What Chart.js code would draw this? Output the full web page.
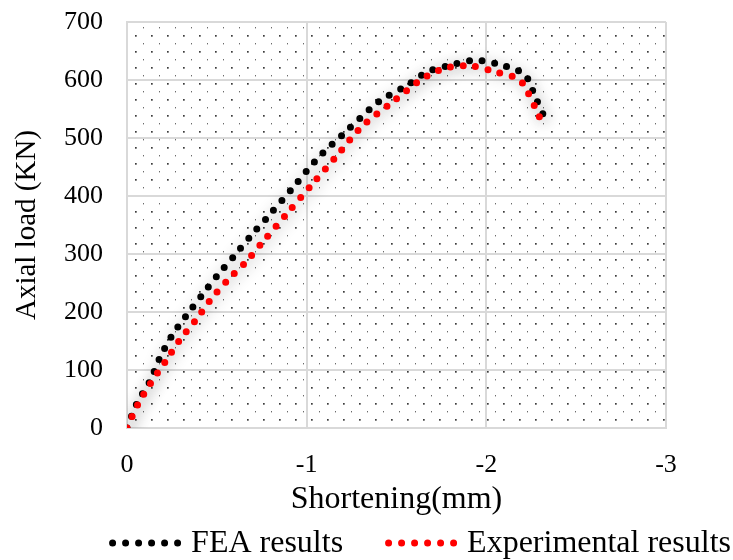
<!DOCTYPE html>
<html>
<head>
<meta charset="utf-8">
<script src="https://cdn.jsdelivr.net/npm/chart.js@4.4.0/dist/chart.umd.min.js"></script>
<style>
  html, body { margin: 0; padding: 0; background: #fff; }
  #wrap { width: 733px; height: 560px; }
</style>
</head>
<body>
<div id="wrap"><canvas id="chart" width="733" height="560"></canvas></div>
<script>
// Shortening (mm) and axial load (KN)
const feaX = [0, -0.056, -0.128, -0.183, -0.25, -0.333, -0.422, -0.506, -0.6, -0.694, -0.789, -0.928, -1.067, -1.222, -1.378, -1.433, -1.561, -1.672, -1.806, -1.944, -2.078, -2.211, -2.272, -2.34];
const feaY = [0, 43, 81, 121, 159, 195, 231, 264, 298, 333, 366, 416, 467, 512, 557, 569, 591, 614, 626, 634, 626, 610, 571, 524];

const expX = [0, -0.061, -0.133, -0.217, -0.294, -0.383, -0.467, -0.561, -0.661, -0.756, -0.894, -1.033, -1.172, -1.311, -1.478, -1.644, -1.778, -1.917, -2.05, -2.178, -2.222, -2.283, -2.322];
const expY = [0, 41, 78, 116, 152, 186, 222, 255, 286, 321, 371, 421, 471, 521, 562, 602, 621, 624, 614, 602, 584, 545, 518];

const seriesNames = ['FEA results', 'Experimental results'];
const seriesColors = ['#000000', '#ff0000'];
const xTicks = [0, -1, -2, -3];
const yTicks = [0, 100, 200, 300, 400, 500, 600, 700];

const FONT = '"Liberation Serif", "Times New Roman", serif';

function toPoints(xs, ys) {
  return xs.map((x, i) => ({ x, y: ys[i] }));
}

// dotted fill used behind the plot area
function makeDotPattern() {
  const c = document.createElement('canvas');
  c.width = 16;
  c.height = 16;
  const g = c.getContext('2d');
  g.fillStyle = '#fff';
  g.fillRect(0, 0, 16, 16);
  g.fillStyle = '#3c3c3c';
  g.fillRect(7, 3, 1.7, 1.7);
  g.fillStyle = '#6a6a6a';
  g.fillRect(15, 11, 1.4, 1.4);
  return c;
}

const plotBackground = {
  id: 'plotBackground',
  beforeDraw(chart) {
    const { ctx, chartArea } = chart;
    ctx.save();
    ctx.fillStyle = ctx.createPattern(makeDotPattern(), 'repeat');
    ctx.fillRect(chartArea.left, chartArea.top, chartArea.right - chartArea.left, chartArea.bottom - chartArea.top);
    ctx.restore();
  },
};

// soft grey halo behind the dotted curves
const glow = {
  id: 'glow',
  beforeDatasetDraw(chart) {
    const { ctx } = chart;
    ctx.save();
    ctx.shadowColor = 'rgba(0,0,0,0.3)';
    ctx.shadowBlur = 14;
    ctx.shadowOffsetX = 2;
    ctx.shadowOffsetY = 2;
  },
  afterDatasetDraw(chart) {
    chart.ctx.restore();
  },
};

// legend row under the x title: six dots then the series name, right-aligned
const dottedLegend = {
  id: 'dottedLegend',
  afterDraw(chart) {
    const { ctx } = chart;
    const y = 543;
    ctx.save();
    ctx.font = '32px ' + FONT;
    ctx.textBaseline = 'middle';
    ctx.textAlign = 'left';
    let right = chart.width - 2;
    for (let i = seriesNames.length - 1; i >= 0; i--) {
      const textW = ctx.measureText(seriesNames[i]).width;
      const textX = right - textW;
      ctx.fillStyle = '#000';
      ctx.fillText(seriesNames[i], textX, y + 1);
      const dotsEnd = textX - 10;
      ctx.fillStyle = seriesColors[i];
      for (let d = 0; d < 6; d++) {
        ctx.beginPath();
        ctx.arc(dotsEnd - 3.5 - d * 13, y, 3.5, 0, Math.PI * 2);
        ctx.fill();
      }
      right = dotsEnd - 69 - 45;
    }
    ctx.restore();
  },
};

const lineStyle = {
  showLine: true,
  borderWidth: 7,
  borderDash: [0, 12.6],
  borderCapStyle: 'round',
  tension: 0.3,
  pointRadius: 0,
  pointHoverRadius: 0,
  fill: false,
};

new Chart(document.getElementById('chart').getContext('2d'), {
  type: 'scatter',
  data: {
    datasets: [
      {
        ...lineStyle,
        label: seriesNames[0],
        data: toPoints(feaX, feaY),
        borderColor: seriesColors[0],
        backgroundColor: seriesColors[0],
        order: 1,
      },
      {
        ...lineStyle,
        label: seriesNames[1],
        data: toPoints(expX, expY),
        borderColor: seriesColors[1],
        backgroundColor: seriesColors[1],
        order: 0,
      },
    ],
  },
  options: {
    responsive: false,
    animation: false,
    layout: { padding: { left: 0, right: 67, top: 22, bottom: 41 } },
    plugins: {
      tooltip: { enabled: false },
      legend: { display: false },
    },
    scales: {
      x: {
        type: 'linear',
        min: -3,
        max: 0,
        reverse: true,
        afterBuildTicks(scale) {
          scale.ticks = xTicks.map((v) => ({ value: v }));
        },
        afterFit(scale) {
          scale.height = 91;
        },
        grid: { color: '#d9d9d9', lineWidth: 2, drawTicks: false },
        border: { color: '#d9d9d9', width: 2 },
        ticks: {
          color: '#000',
          padding: 22,
          font: { family: FONT, size: 26 },
        },
        title: {
          display: true,
          text: 'Shortening(mm)',
          color: '#000',
          padding: 0,
          font: { family: FONT, size: 32 },
        },
      },
      y: {
        min: 0,
        max: 700,
        afterBuildTicks(scale) {
          scale.ticks = yTicks.map((v) => ({ value: v }));
        },
        afterFit(scale) {
          scale.width = 127;
          scale.paddingTop = 0;
          scale.paddingBottom = 0;
        },
        grid: { color: '#d9d9d9', lineWidth: 2, drawTicks: false },
        border: { color: '#d9d9d9', width: 2 },
        ticks: {
          color: '#000',
          padding: 24,
          font: { family: FONT, size: 26 },
        },
        title: {
          display: true,
          text: 'Axial load (KN)',
          color: '#000',
          padding: { top: 10 },
          font: { family: FONT, size: 29 },
        },
      },
    },
  },
  plugins: [plotBackground, glow, dottedLegend],
});
</script>
</body>
</html>
